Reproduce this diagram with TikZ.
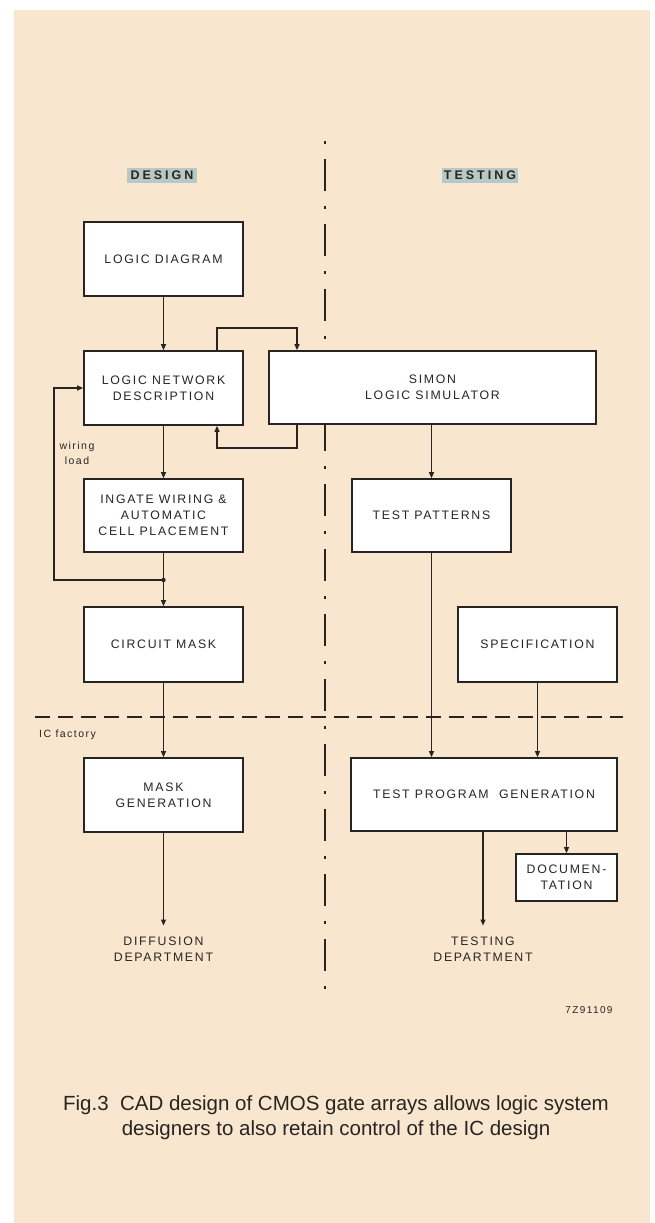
\documentclass[tikz,border=0pt]{standalone}
\usepackage{fontspec}
\setmainfont{Liberation Sans}
\newfontfamily\boxfont[LetterSpace=14]{Liberation Sans}
\newfontfamily\headfont[LetterSpace=24]{Liberation Sans}
\usetikzlibrary{arrows.meta}
\usetikzlibrary{calc}

\definecolor{paper}{RGB}{248,230,206}
\definecolor{tag}{RGB}{184,200,196}
\definecolor{ink}{RGB}{40,36,34}

\tikzset{
  block/.style={draw=ink, line width=1.7pt, fill=white, minimum width=159pt,
    minimum height=74pt, align=center, inner sep=2pt, text=ink,
    font=\boxfont\fontsize{12.3}{16}\selectfont},
  flow/.style={draw=ink, line width=1.1pt, -{Triangle[length=6pt,width=5pt]}},
  tagbox/.style={fill=tag, minimum width=70pt, minimum height=15pt, inner sep=0pt,
    text=ink, font=\headfont\bfseries\fontsize{12.5}{15}\selectfont},
  note/.style={font=\boxfont\fontsize{10.5}{15}\selectfont, text=ink,
    align=center, inner sep=1pt},
  dept/.style={font=\boxfont\fontsize{12.3}{16}\selectfont, text=ink,
    align=center, inner xsep=2pt, inner ysep=11pt},
}

\begin{document}
\begin{tikzpicture}[x=1pt, y=-1pt]
    \useasboundingbox (0,0) rectangle (655,1223);

    % Paper
    \fill[white] (0,0) rectangle (655,1223);
    \fill[paper] (14,10) rectangle (650,1223);

    % Divider lines
    \draw[ink, line width=1.6pt, dash pattern=on 3pt off 15pt on 32pt off 15pt] (325,141) -- (325,1003);
    \draw[ink, line width=1.1pt, dash pattern=on 15pt off 8pt] (35,717) -- (623,717);

    % Headings
    \node[tagbox] (design) at (162,175.5) {DESIGN};
    \node[tagbox, minimum width=76pt] (testing) at (480,175.5) {TESTING};

    % Design column
    \node[block] (ld) at (163.5,259) {LOGIC DIAGRAM};
    \node[block] (lnd) at (163.5,388) {LOGIC NETWORK\\DESCRIPTION};
    \node[block, minimum height=73pt] (iw) at (163.5,515.5) {INGATE WIRING \&\\AUTOMATIC\\CELL PLACEMENT};
    \node[block, minimum height=75pt] (cm) at (163.5,644.5) {CIRCUIT MASK};
    \node[block] (mg) at (163.5,795) {MASK\\GENERATION};
    \node[dept] (diff) at (163.5,949) {DIFFUSION\\DEPARTMENT};

    % Testing column
    \node[block, minimum width=327pt, minimum height=73pt] (sim) at (432.5,387.5) {SIMON\\LOGIC SIMULATOR};
    \node[block, minimum height=73pt] (tp) at (431.5,515.5) {TEST PATTERNS};
    \node[block, minimum height=75pt] (spec) at (537.5,644.5) {SPECIFICATION};
    \node[block, minimum width=266pt, minimum height=73pt] (tpg) at (484,794.5) {TEST PROGRAM\ \ GENERATION};
    \node[block, minimum width=101pt, minimum height=47pt] (doc) at (566.5,877.5) {DOCUMEN-\\TATION};
    \node[dept] (tdep) at (483,949) {TESTING\\DEPARTMENT};

    % Notes
    \node[note] (wload) at (77,453) {wiring\\load};
    \node[note, anchor=west] (icf) at (38,735) {IC factory};
    \node[note, font=\boxfont\fontsize{10}{12}\selectfont] (ref) at (589,1010) {7Z91109};

    % Corners of the loops
    \coordinate (upL) at (217,328);
    \coordinate (upR) at (297,328);
    \coordinate (dnR) at (297,448);
    \coordinate (dnL) at (217,448);
    \coordinate (tap) at (163.5,580);
    \coordinate (wcorner) at (54,580);

    % Connectors
    \draw[flow] (ld) -- (lnd);
    \draw[flow] (lnd.north -| upL) -- (upL) -- (upR) -- (sim.north -| upR);
    \draw[flow] (sim.south -| dnR) -- (dnR) -- (dnL) -- (lnd.south -| dnL);
    \draw[flow] (lnd) -- (iw);
    \draw[flow] (iw) -- (cm);
    \fill[ink] (tap) circle (2.2pt);
    \draw[flow] (tap) -- (wcorner) |- (lnd.west);
    \draw[flow] (sim.south -| tp.north) -- (tp.north);
    \draw[flow] (cm) -- (mg);
    \draw[flow] (tp.south) -- (tp.south |- tpg.north);
    \draw[flow] (spec.south) -- (spec.south |- tpg.north);
    \draw[flow] (mg) -- (diff);
    \draw[flow] (tpg.south -| tdep.north) -- (tdep.north);
    \draw[flow] (tpg.south -| doc.north) -- (doc.north);

    % Caption
    \node[font=\fontsize{20.5}{25}\selectfont, text=ink, align=center] (caption) at (336,1118)
        {Fig.3\ \ CAD design of CMOS gate arrays allows logic system\\designers to also retain control of the IC design};
\end{tikzpicture}
\end{document}
